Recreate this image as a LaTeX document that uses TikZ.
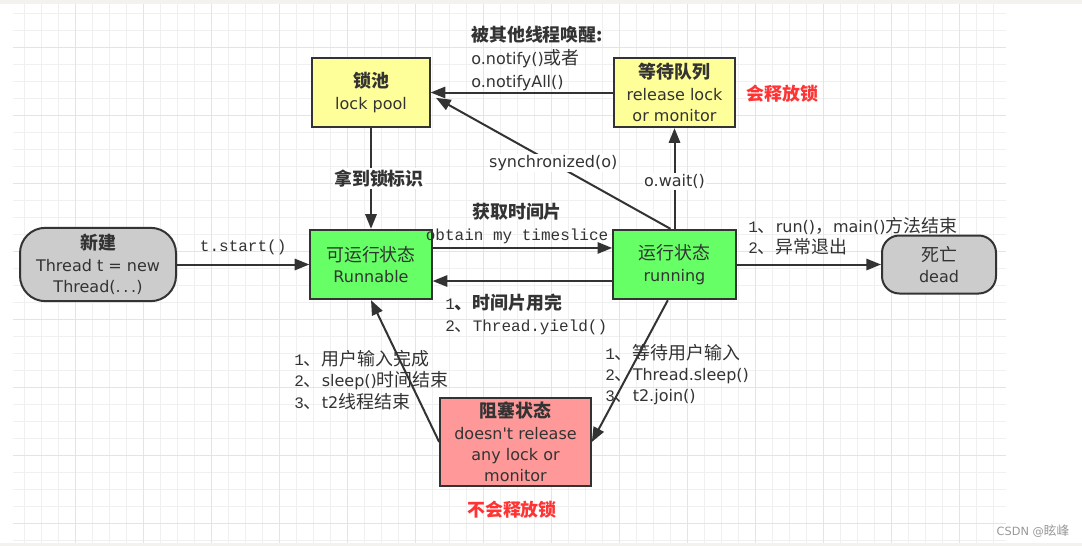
\documentclass[tikz,border=0pt]{standalone}
\usepackage{fontspec}
\setmainfont{DejaVu Sans}[Ligatures=TeXOff]
\setmonofont{Liberation Mono}
\newfontfamily\cjk{Noto Sans CJK SC}[Scale=1.12]
\newcommand{\cn}[1]{{\cjk #1}}
\usetikzlibrary{arrows.meta, positioning}

\definecolor{inkgray}{HTML}{333333}
\definecolor{poolyellow}{HTML}{FFFF99}
\definecolor{stategreen}{HTML}{66FF66}
\definecolor{blockpink}{HTML}{FF9999}
\definecolor{endgray}{HTML}{CCCCCC}
\definecolor{notered}{HTML}{FF3333}
\definecolor{gridline}{HTML}{F0F0F0}
\definecolor{gridmajor}{HTML}{E4E4E4}
\definecolor{pagebeige}{HTML}{F3F2EE}
\definecolor{markgray}{HTML}{999999}

\begin{document}
\begin{tikzpicture}[
    x=0.75pt, y=-0.75pt,
    >={Triangle[length=11pt,width=8.5pt]},
    every node/.style={text=inkgray, font=\fontsize{12}{16}\selectfont},
    state/.style={rectangle, draw=inkgray, line width=1.5pt, align=center, inner sep=0pt},
    terminal/.style={state, fill=endgray, rounded corners=19pt},
    flow/.style={draw=inkgray, line width=1.5pt},
    note/.style={anchor=west, align=left, inner sep=0pt},
    mono/.style={font=\ttfamily\fontsize{12}{16.5}\selectfont},
    tag/.style={text=notered, font=\cjk\bfseries\fontsize{12}{16}\selectfont}
]
    \useasboundingbox (0,0) rectangle (1082,546);

    % Paper and grid
    \fill[pagebeige] (0,0) rectangle (1082,546);
    \fill[white] (0,3.5) rectangle (1082,543);
    \foreach \i in {0,...,57}
        \draw[gridline, line width=0.75pt] ({24.3+17*\i},4) -- ({24.3+17*\i},543);
    \foreach \i in {0,...,31}
        \draw[gridline, line width=0.75pt] (13,{13.3+17*\i}) -- (1006,{13.3+17*\i});
    \foreach \i in {3,7,...,55}
        \draw[gridmajor, line width=0.75pt] ({24.3+17*\i},4) -- ({24.3+17*\i},543);
    \foreach \i in {2,6,...,30}
        \draw[gridmajor, line width=0.75pt] (13,{13.3+17*\i}) -- (1006,{13.3+17*\i});

    % Lock pool and wait queue
    \node[state, fill=poolyellow, minimum width=88pt, minimum height=52pt] (lockpool) at (371,92.5) {\cn{\bfseries 锁池}\\lock pool};
    \node[state, fill=poolyellow, minimum width=91pt, minimum height=52pt] (waitqueue) at (674.5,92.5) {\cn{\bfseries 等待队列}\\release lock\\or monitor};
    \node[tag, anchor=west] (releasetag) at (742,94) {会释放锁};

    % Main states
    \node[terminal, minimum width=117pt, minimum height=55pt] (newthread) at (98,264.5) {\cn{\bfseries 新建}\\Thread t = new\\Thread(.\,.\,.)};
    \node[state, fill=stategreen, minimum width=91pt, minimum height=52pt] (runnable) at (371,264.5) {\cn{可运行状态}\\Runnable};
    \node[state, fill=stategreen, minimum width=92pt, minimum height=52pt] (running) at (674.5,264.5) {\cn{运行状态}\\running};
    \node[terminal, rounded corners=13pt, minimum width=85.5pt, minimum height=43.5pt] (dead) at (939,264.5) {\cn{死亡}\\dead};

    % Blocked state
    \node[state, fill=blockpink, minimum width=113pt, minimum height=66pt] (blocked) at (515.5,442) {\cn{\bfseries 阻塞状态}\\doesn't release\\any lock or\\monitor};
    \node[tag] (keeptag) at (512,510) {不会释放锁};

    % Transitions
    \draw[flow, ->] (newthread) -- node[mono, above=3.5pt] {t.start()} (runnable);
    \draw[flow, ->] ([yshift=12.4pt]runnable.east) -- node[above=2pt, xshift=-4pt, align=center, inner sep=0pt] {\cn{\bfseries 获取时间片}\\[1pt]{\ttfamily obtain my timeslice}} ([yshift=12.4pt]running.west);
    \draw[flow, ->] ([yshift=-12.4pt]running.west) -- ([yshift=-12.4pt]runnable.east);
    \node[note, mono] (yieldnote) at (445,314) {1\cn{\bfseries 、时间片用完}\\2\cn{、}Thread.yield()};
    \draw[flow, ->] (running) -- (dead);
    \node[note] (deadnote) at (748,236) {{\ttfamily 1}\cn{、}run()\cn{，}main()\cn{方法结束}\\{\ttfamily 2}\cn{、异常退出}};

    % Lock and wait transitions
    \draw[flow, ->] (running.north) -- node[fill=white, pos=0.47, inner sep=1pt] {o.wait()} (waitqueue);
    \draw[flow, ->] (waitqueue) -- (lockpool);
    \node[note, font=\fontsize{12}{17.5}\selectfont] (notifynote) at (471,58.5) {\cn{\bfseries 被其他线程唤醒:}\\o.notify()\cn{或者}\\o.notifyAll()};
    \draw[flow, ->] ([xshift=-3pt]running.north) -- node[fill=white, inner sep=1pt] {synchronized(o)} ([xshift=4pt,yshift=-4pt]lockpool.east);
    \draw[flow, ->] (lockpool) -- node[fill=white, xshift=6pt, inner sep=1pt] {\cn{\bfseries 拿到锁标识}} (runnable);

    % Blocking transitions
    \draw[flow, ->] ([xshift=-5pt]running.south) -- (blocked.east);
    \node[note] (blocknote) at (605,374.5) {{\ttfamily 1}\cn{、等待用户输入}\\{\ttfamily 2}\cn{、}Thread.sleep()\\{\ttfamily 3}\cn{、}t2.join()};
    \draw[flow, ->] (blocked.west) -- (runnable.south);
    \node[note] (wakenote) at (294,380) {{\ttfamily 1}\cn{、用户输入完成}\\{\ttfamily 2}\cn{、}sleep()\cn{时间结束}\\{\ttfamily 3}\cn{、}t2\cn{线程结束}};

    \node[font=\fontsize{8.5}{10}\selectfont, text=markgray] (watermark) at (1033,531) {CSDN @\cn{眩峰}};
\end{tikzpicture}
\end{document}
